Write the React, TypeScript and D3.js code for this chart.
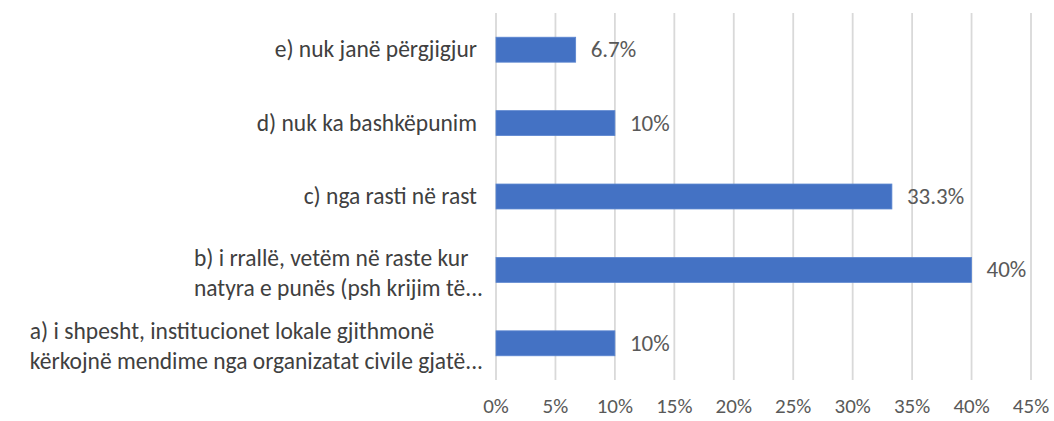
import React from "react";
import * as d3 from "d3";

const categories: string[][] = [
  ["e) nuk janë përgjigjur"],
  ["d) nuk ka bashkëpunim"],
  ["c) nga rasti në rast "],
  ["b) i rrallë, vetëm në raste kur", "natyra e punës (psh krijim të..."],
  ["a) i shpesht, institucionet lokale gjithmonë", "kërkojnë mendime nga organizatat civile gjatë..."],
];
const values: number[] = [6.7, 10, 33.3, 40, 10];
const valueLabels: string[] = ["6.7%", "10%", "33.3%", "40%", "10%"];
const ticks: number[] = [0, 5, 10, 15, 20, 25, 30, 35, 40, 45];

const W = 1054;
const H = 421;
const margin = { left: 496, right: 23, top: 13, bottom: 41 };
const FONT = "Carlito, Calibri, 'Open Sans', sans-serif";

export default function App() {
  const x = d3.scaleLinear().domain([0, 45]).range([margin.left, W - margin.right]);
  const y = d3
    .scaleBand<number>()
    .domain(d3.range(categories.length))
    .range([margin.top, H - margin.bottom])
    .paddingInner(0.66)
    .paddingOuter(0.33);

  const labelRight = 483;
  return (
    <svg
      width={W}
      height={H}
      style={{ position: "absolute", left: 0, top: 0, background: "#fff" }}
      fontFamily={FONT}
    >
      {ticks.map((t) => (
        <line
          key={"g" + t}
          x1={x(t)}
          x2={x(t)}
          y1={margin.top}
          y2={H - margin.bottom}
          stroke="#d9d9d9"
          strokeWidth={1.8}
        />
      ))}
      {ticks.map((t) => (
        <text
          key={"t" + t}
          x={x(t)}
          y={408}
          textAnchor="middle"
          dominantBaseline="middle"
          fontSize={21}
          fill="#595959"
        >
          {t + "%"}
        </text>
      ))}
      {values.map((v, i) => (
        <g key={"b" + i}>
          <rect
            x={x(0)}
            y={y(i)!}
            width={x(v) - x(0)}
            height={y.bandwidth()}
            fill="#4472c4"
            stroke="#5b86d0"
            strokeWidth={0.8}
          />
          <text
            x={x(v) + 15}
            y={y(i)! + y.bandwidth() / 2 + 2}
            dominantBaseline="middle"
            fontSize={23}
            fill="#595959"
          >
            {valueLabels[i]}
          </text>
        </g>
      ))}
      {categories.map((lines, i) => {
        const cy = y(i)! + y.bandwidth() / 2;
        if (lines.length === 1) {
          return (
            <text
              key={"c" + i}
              x={labelRight - 6}
              y={cy + 2}
              textAnchor="end"
              dominantBaseline="middle"
              fontSize={23.5}
              fill="#404040"
            >
              {lines[0]}
            </text>
          );
        }
        return (
          <CatBlock key={"c" + i} lines={lines} right={labelRight} cy={cy + 5} />
        );
      })}
    </svg>
  );
}

function CatBlock({ lines, right, cy }: { lines: string[]; right: number; cy: number }) {
  const ref = React.useRef<SVGGElement>(null);
  const [left, setLeft] = React.useState<number | null>(null);
  React.useLayoutEffect(() => {
    if (ref.current) {
      const bb = ref.current.getBBox();
      setLeft(right - bb.width);
    }
  }, [right]);
  const lh = 30;
  const y0 = cy - ((lines.length - 1) * lh) / 2;
  return (
    <g ref={ref} style={{ visibility: left === null ? "hidden" : "visible" }}>
      {lines.map((l, k) => (
        <text
          key={k}
          x={left ?? 0}
          y={y0 + k * lh}
          dominantBaseline="middle"
          fontSize={23.5}
          fill="#404040"
        >
          {l}
        </text>
      ))}
    </g>
  );
}
